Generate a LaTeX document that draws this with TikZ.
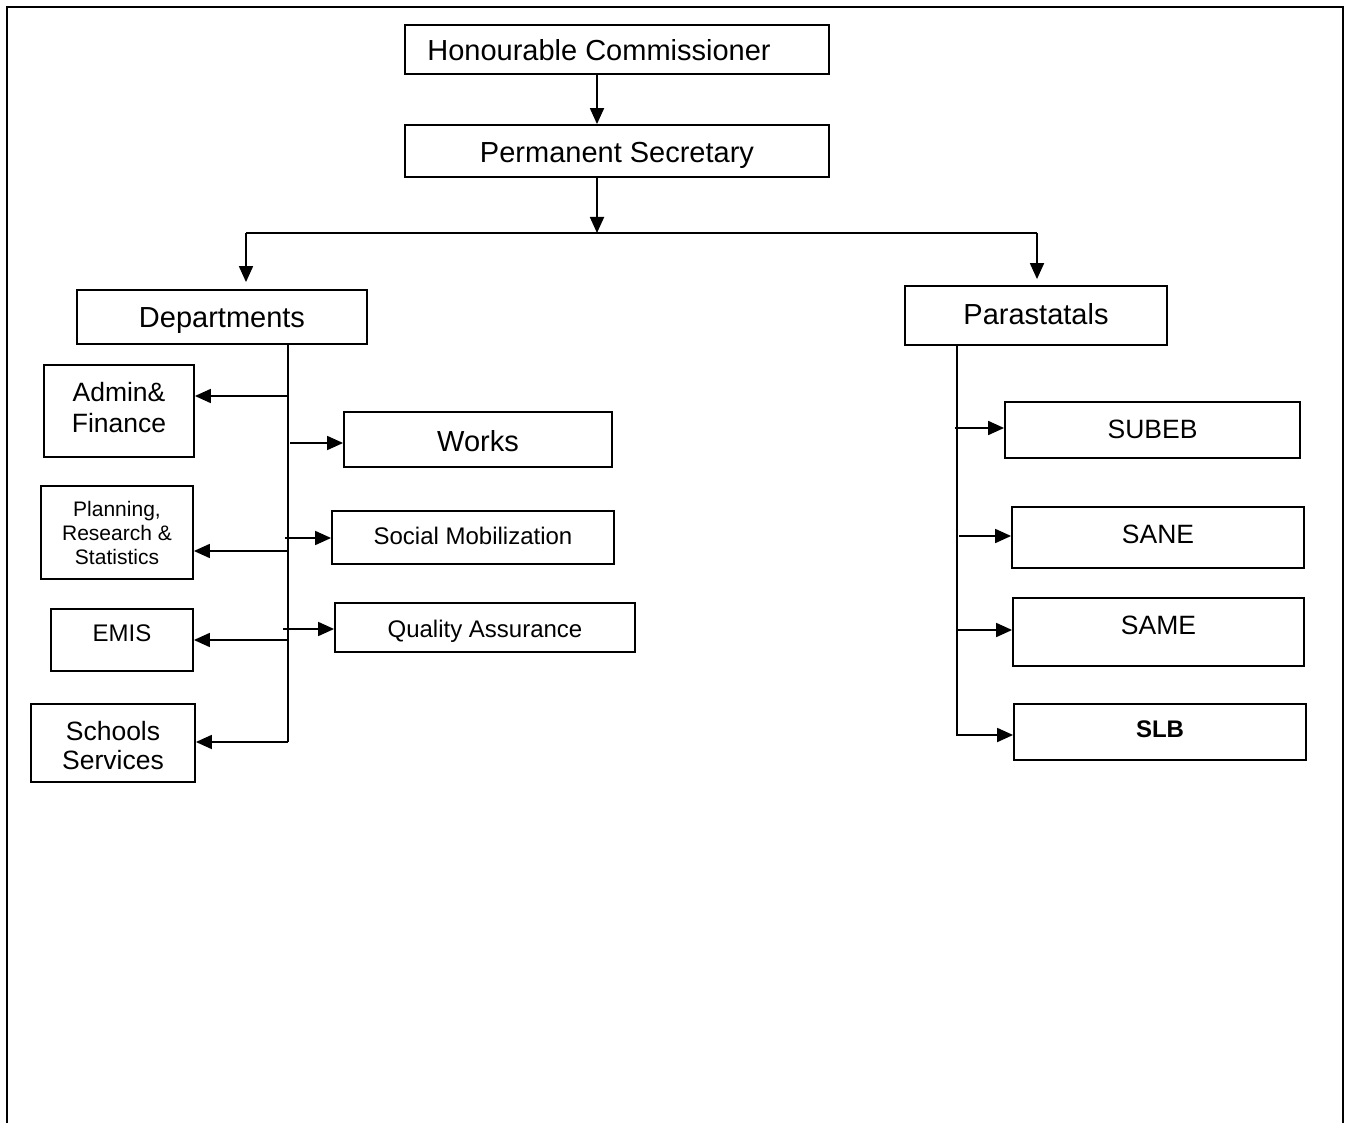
\documentclass[tikz,border=0pt]{standalone}
\usepackage{fontspec}
\setmainfont{Liberation Sans}
\usetikzlibrary{arrows.meta}
\newcommand{\stk}[1]{\begin{tabular}{@{}c@{}}#1\end{tabular}}
\newcommand{\sh}[2]{\raisebox{#1}[\height][\depth]{#2}}
\begin{document}
\begin{tikzpicture}[x=1pt,y=-1pt,
  box/.style={draw, line width=1.8pt, inner sep=0pt, align=center},
  fL/.style={font=\fontsize{29}{33}\selectfont},
  fM/.style={font=\fontsize{26.5}{30.5}\selectfont},
  fS/.style={font=\fontsize{24}{27.6}\selectfont},
  fXS/.style={font=\fontsize{21}{24}\selectfont},
  arr/.style={line width=1.8pt, -{Triangle[length=16pt,width=14pt]}},
  ln/.style={line width=1.8pt},
]
\useasboundingbox (0,0) rectangle (1350,1123);
\draw[line width=2.4pt] (7,1123) -- (7,7) -- (1343,7) -- (1343,1123);

% top
\node[box,fL,minimum width=424pt,minimum height=49pt] (hc) at (617,49.5) {\hspace*{-36pt}\sh{-1pt}{Honourable Commissioner}};
\node[box,fL,minimum width=424pt,minimum height=52pt] (ps) at (617,151) {\sh{-4pt}{Permanent Secretary}};
\node[box,fL,minimum width=290pt,minimum height=54pt] (dept) at (222,317) {\sh{-4pt}{Departments}};
\node[box,fL,minimum width=262pt,minimum height=59pt] (para) at (1036,315.5) {\sh{1pt}{Parastatals}};

% departments
\node[box,fM,minimum width=150pt,minimum height=92pt] (af) at (119,411) {\stk{Admin\&\\Finance}};
\node[box,fL,minimum width=268pt,minimum height=55pt] (works) at (478,439.5) {\sh{-2pt}{Works}};
\node[box,fXS,minimum width=152pt,minimum height=93pt] (prs) at (117,532.5) {\sh{-3pt}{\stk{Planning,\\Research \&\\Statistics}}};
\node[box,fS,minimum width=282pt,minimum height=53pt] (sm) at (473,537.5) {\sh{2pt}{Social Mobilization}};
\node[box,fS,minimum width=142pt,minimum height=62pt] (emis) at (122,640) {\sh{7pt}{EMIS}};
\node[box,fS,minimum width=300pt,minimum height=49pt] (qa) at (485,627.5) {\sh{-4pt}{Quality Assurance}};
\node[box,font=\fontsize{26.5}{29.5}\selectfont,minimum width=164pt,minimum height=78pt] (ss) at (113,743) {\sh{-6pt}{\stk{Schools\\Services}}};

% parastatals
\node[box,fM,minimum width=295pt,minimum height=56pt] (subeb) at (1152.5,430) {\sh{1pt}{SUBEB}};
\node[box,fM,minimum width=292pt,minimum height=61pt] (sane) at (1158,537.5) {\sh{3.5pt}{SANE}};
\node[box,fM,minimum width=291pt,minimum height=68pt] (same) at (1158.5,632) {\sh{6.5pt}{SAME}};
\node[box,fS,minimum width=292pt,minimum height=56pt] (slb) at (1160,732) {\sh{2.5pt}{\bfseries SLB}};

% top connectors
\draw[arr] ([xshift=-20pt]hc.south) -- ([xshift=-20pt]ps.north);
\coordinate (bus) at (597,233);
\coordinate (busL) at (246,233);
\coordinate (busR) at (1037,233);
\draw[arr] ([xshift=-20pt]ps.south) -- (bus);
\draw[ln] (busL) -- (busR);
\draw[arr, shorten >=7pt] (busL) -- (busL |- dept.north);
\draw[arr, shorten >=6pt] (busR) -- (busR |- para.north);

% department trunk
\coordinate (dt) at (288,742);
\draw[ln] (dept.south -| dt) -- (dt);
\coordinate (d1) at (288,396);
\coordinate (d2) at (290,443);
\coordinate (d3) at (288,551);
\coordinate (d4) at (285,538);
\coordinate (d5) at (288,640);
\coordinate (d6) at (283,629);
\draw[arr] (d1) -- (d1 -| af.east);
\draw[arr] (d2) -- (d2 -| works.west);
\draw[arr] (d3) -- (d3 -| prs.east);
\draw[arr] (d4) -- (d4 -| sm.west);
\draw[arr] (d5) -- (d5 -| emis.east);
\draw[arr] (d6) -- (d6 -| qa.west);
\draw[arr] (dt) -- (dt -| ss.east);

% parastatal trunk
\coordinate (pt) at (957,735);
\draw[arr] (para.south -| pt) -- (pt) -- (pt -| slb.west);
\coordinate (p1) at (955,428);
\coordinate (p2) at (959,536);
\coordinate (p3) at (957,630);
\draw[arr] (p1) -- (p1 -| subeb.west);
\draw[arr] (p2) -- (p2 -| sane.west);
\draw[arr] (p3) -- (p3 -| same.west);
\end{tikzpicture}
\end{document}
